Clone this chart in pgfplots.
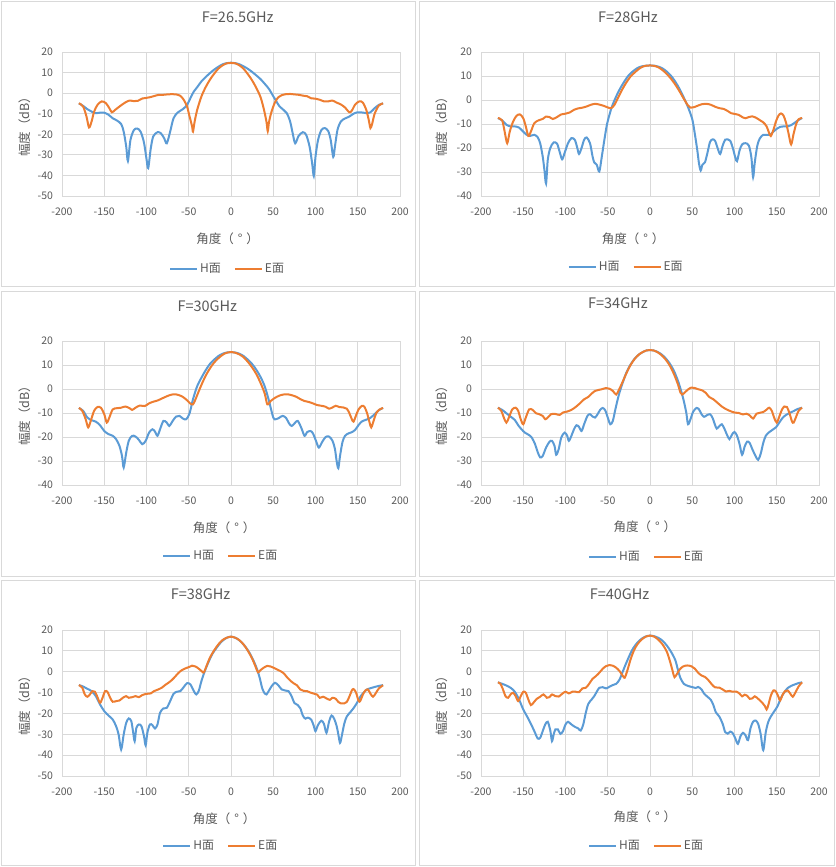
\documentclass[border=0pt]{standalone}
\usepackage{fontspec}
\setmainfont{Noto Sans CJK SC}
\usepackage{pgfplots}
\pgfplotsset{compat=1.18}
\definecolor{hblue}{HTML}{5B9BD5}
\definecolor{eorange}{HTML}{ED7D31}
\definecolor{txt}{HTML}{595959}
\definecolor{gridc}{HTML}{D9D9D9}
\pgfplotsset{
 panel/.style={
  scale only axis, width=338pt, height=144pt,
  xmin=-200,xmax=200, xtick={-200,-150,...,200},
  xticklabels={-200,-150,-100,-50,0,50,100,150,200},
  ymax=20,
  grid=major, grid style={gridc, line width=0.8pt},
  axis line style={gridc, line width=0.8pt},
  major tick length=0pt,
  tick label style={font=\fontsize{10.5}{12}\selectfont, text=txt},
  xticklabel style={yshift=-8pt},
  yticklabel style={xshift=-5.5pt},
  title style={font=\fontsize{14.5}{16}\selectfont, text=txt, anchor=center},
  xlabel style={font=\fontsize{12.5}{14}\selectfont, text=txt, anchor=center},
  ylabel style={font=\fontsize{12.5}{14}\selectfont, text=txt, anchor=center},
  xlabel={角度（\makebox[1em]{°}）}, ylabel={幅度（dB）},
  no markers,
  every axis plot/.append style={line width=2pt, smooth, tension=0.5},
  legend columns=2,
  legend style={draw=none, fill=none, font=\fontsize{12}{13}\selectfont, anchor=center,
    nodes={text=txt},
    /tikz/every even column/.append style={column sep=11pt}},
 },
 hstyle/.style={color=hblue, line width=2pt},
 estyle/.style={color=eorange, line width=2pt},
 y50/.style={ymin=-50, ytick={-50,-40,...,20}, yticklabels={-50,-40,-30,-20,-10,0,10,20}},
 y40/.style={ymin=-40, ytick={-40,-30,...,20}, yticklabels={-40,-30,-20,-10,0,10,20}},
}
\newcommand{\legimgs}{%
 \addlegendimage{legend image code/.code={\draw[hblue, line width=2pt] (0pt,0pt) -- (27pt,0pt);}}
 \addlegendentry{H面}
 \addlegendimage{legend image code/.code={\draw[eorange, line width=2pt] (0pt,0pt) -- (27pt,0pt);}}
 \addlegendentry{E面}
}
\begin{document}
\begin{tikzpicture}
\useasboundingbox (0,0) rectangle (835pt,867pt);
\draw[gridc, line width=0.8pt] (1pt,866pt) rectangle (415pt,581pt);
\draw[gridc, line width=0.8pt] (419pt,866pt) rectangle (834pt,581pt);
\draw[gridc, line width=0.8pt] (1pt,576pt) rectangle (415pt,291pt);
\draw[gridc, line width=0.8pt] (419pt,576pt) rectangle (834pt,291pt);
\draw[gridc, line width=0.8pt] (1pt,287pt) rectangle (415pt,2pt);
\draw[gridc, line width=0.8pt] (419pt,287pt) rectangle (834pt,2pt);

% Panel 1
\begin{axis}[panel, y50, at={(62pt,671pt)}, anchor=south west,
  title={F=26.5GHz}, title style={at={(axis description cs:0.52,1.20)}},
  xlabel style={at={(axis description cs:0.49,-0.30)}},
  ylabel style={at={(axis description cs:-0.109,0.5)}},
  legend style={at={(axis description cs:0.49,-0.507)}}]
\legimgs
\addplot[hstyle] coordinates {(-180,-5)(-175,-6.2)(-170,-7.8)(-167,-8.5)(-161,-9.7)(-155,-9.5)(-150,-9.5)(-145,-10.5)(-140,-12.2)(-135,-13.3)(-130,-15)(-127,-18.7)(-124,-26)(-122,-33)(-119,-22.8)(-115,-18)(-111,-17.2)(-107,-18.7)(-103,-24)(-100,-32)(-98,-36.5)(-95,-27)(-92,-21)(-87,-19)(-83,-19.5)(-79,-22)(-76,-24.4)(-72,-18.7)(-68,-12.2)(-63,-9.4)(-57,-7.8)(-52,-5.7)(-48,-2.4)(-44,0.8)(-40,2.9)(-35,5.7)(-30,7.8)(-25,9.7)(-20,11.4)(-15,12.8)(-10,14)(-5,14.6)(0,14.8)(5,14.6)(10,14)(15,13)(20,11.8)(25,10.3)(30,8.6)(35,6.8)(40,4.5)(45,2)(50,-1.5)(53,-3.5)(57,-6.2)(62,-8.1)(66,-9.7)(70,-13.8)(73,-19.5)(76,-24.4)(80,-20.8)(85,-19)(89,-20.3)(93,-26)(96,-34)(98,-40.3)(100,-31)(103,-22.8)(107,-17.9)(111,-17)(115,-18.4)(118,-22.8)(121,-31)(123,-26)(126,-17.9)(130,-13.8)(135,-12.3)(140,-11.4)(145,-10)(150,-9.3)(155,-9.4)(160,-9.7)(165,-9.3)(170,-7.3)(175,-5.7)(180,-5)};
\addplot[estyle] coordinates {(-180,-4.9)(-175,-6.5)(-171,-11.4)(-168,-16.7)(-165,-13.8)(-162,-9)(-158,-5.7)(-153,-4)(-148,-4.9)(-144,-7.3)(-141,-9.3)(-137,-8.1)(-131,-6.2)(-125,-4.5)(-120,-3.6)(-115,-3.9)(-110,-3.7)(-105,-2.6)(-100,-2.3)(-95,-1.9)(-90,-1.3)(-85,-0.8)(-80,-0.8)(-75,-0.6)(-70,-0.5)(-65,-0.6)(-60,-1.3)(-56,-3.2)(-52,-6.5)(-49,-11.4)(-46,-16.2)(-45,-18.7)(-43,-13.8)(-40,-8.1)(-35,-1.6)(-30,2.9)(-25,6.5)(-20,9.4)(-15,11.9)(-10,13.5)(-5,14.5)(0,14.7)(5,14.5)(10,13.5)(15,11.8)(20,9.2)(25,6.2)(30,2.5)(35,-2)(39,-8)(42,-14)(43.5,-18.5)(45,-14)(48,-9)(52,-4.5)(56,-2)(60,-1)(65,-0.5)(70,-0.4)(75,-0.6)(80,-0.8)(85,-1.2)(90,-1.5)(95,-2.5)(100,-2.7)(105,-3.2)(110,-4)(115,-4)(120,-3.6)(125,-4.6)(130,-5.5)(135,-7)(140,-9.3)(143,-8.5)(147,-5.5)(152,-4)(156,-4.6)(160,-8)(163,-13)(165,-17)(167,-15)(170,-10)(175,-6)(180,-5)};
\end{axis}

% Panel 2
\begin{axis}[panel, y40, at={(481pt,671pt)}, anchor=south west,
  title={F=28GHz}, title style={at={(axis description cs:0.435,1.20)}},
  xlabel style={at={(axis description cs:0.45,-0.30)}},
  ylabel style={at={(axis description cs:-0.115,0.5)}},
  legend style={at={(axis description cs:0.43,-0.49)}}]
\legimgs
\addplot[hstyle] coordinates {(-180,-7.5)(-175,-8.5)(-170,-10.3)(-165,-11)(-160,-11)(-155,-11.5)(-150,-13.2)(-146,-14.5)(-142,-15)(-137,-14.5)(-133,-15.5)(-130,-18)(-127,-23.5)(-125,-29)(-123,-34.8)(-121,-25)(-118,-20)(-114,-17.7)(-110,-18.2)(-107,-21.5)(-104,-24.7)(-101,-22)(-97,-18)(-93,-15.9)(-89,-16.6)(-86,-20)(-84,-22.5)(-81,-20)(-78,-16.6)(-75,-15.6)(-71,-18)(-68,-23.5)(-66,-26)(-63,-27)(-60,-29.8)(-57,-23.5)(-54,-16.6)(-51,-10.3)(-48,-6.2)(-45,-2.7)(-40,1.5)(-35,5)(-30,7.9)(-25,10.4)(-20,12)(-15,13.3)(-10,14)(-5,14.3)(0,14.4)(5,14.3)(10,13.9)(15,13.1)(20,11.8)(25,10)(30,7.6)(35,4.6)(40,1)(45,-3)(50,-8)(53,-14)(56,-21)(58,-26.5)(60,-29.4)(62,-27)(65,-26)(68,-22)(71,-17.5)(74,-16.4)(77,-17)(80,-20)(83,-22.5)(86,-19)(89,-16.5)(92,-16.4)(95,-17)(98,-20)(101,-24)(103,-25.5)(106,-21)(109,-18.5)(113,-18)(117,-19)(120,-24)(122,-32.2)(124,-26)(127,-19)(130,-16)(134,-14.5)(138,-14.5)(142,-14.5)(146,-13.2)(150,-12)(154,-11.2)(158,-11)(163,-11)(167,-10.5)(170,-9.8)(175,-8.5)(180,-7.5)};
\addplot[estyle] coordinates {(-180,-7.5)(-175,-8.5)(-172,-13.2)(-169,-18)(-166,-13.2)(-162,-9)(-158,-6.6)(-154,-6)(-150,-7.6)(-147,-11)(-144,-15)(-141,-13.2)(-137,-9.7)(-132,-8.5)(-127,-7.9)(-123,-6.9)(-119,-7.1)(-115,-7.9)(-110,-7.1)(-105,-6)(-100,-5.7)(-95,-5.2)(-90,-4.1)(-85,-3.5)(-80,-3.2)(-75,-2.7)(-70,-2)(-65,-1.6)(-60,-1.9)(-55,-2.4)(-50,-3.1)(-46,-3.4)(-42,-2)(-38,0.8)(-33,4.3)(-28,7.3)(-23,9.8)(-18,11.5)(-13,13)(-8,14)(-4,14.3)(0,14.4)(5,14.2)(10,13.6)(15,12.4)(20,10.8)(25,8.8)(30,6.4)(35,3.6)(40,0.5)(45,-2.3)(48,-3.2)(52,-3)(57,-2.3)(62,-1.7)(67,-1.6)(72,-2)(77,-2.8)(82,-3.4)(87,-3.7)(92,-4.6)(96,-5.5)(100,-5.8)(105,-6.2)(110,-7.3)(113,-7.6)(117,-7.1)(121,-6.8)(125,-7.3)(130,-8.4)(134,-9.3)(138,-11)(141,-13.8)(143,-15)(146,-12.5)(149,-9)(152,-6.5)(155,-5.6)(158,-6.5)(161,-9.5)(164,-14)(167,-18.5)(170,-14)(173,-10)(176,-8)(180,-7.5)};
\end{axis}

% Panel 3
\begin{axis}[panel, y40, at={(62pt,382pt)}, anchor=south west,
  title={F=30GHz}, title style={at={(axis description cs:0.43,1.20)}},
  xlabel style={at={(axis description cs:0.48,-0.30)}},
  ylabel style={at={(axis description cs:-0.109,0.5)}},
  legend style={at={(axis description cs:0.47,-0.49)}}]
\legimgs
\addplot[hstyle] coordinates {(-180,-7.9)(-175,-9.1)(-170,-11.9)(-165,-13)(-160,-13.6)(-155,-15.1)(-150,-17.5)(-145,-18.8)(-140,-19.5)(-136,-20.9)(-132,-23.7)(-129,-27.9)(-127,-32.7)(-124,-26.5)(-121,-21.6)(-117,-19.5)(-113,-19.8)(-109,-21.2)(-105,-23)(-101,-21.6)(-97,-18.2)(-93,-16.8)(-90,-17.7)(-87,-19.5)(-84,-16.8)(-80,-13.3)(-76,-14)(-73,-15.4)(-69,-13.3)(-65,-11.5)(-61,-11.2)(-57,-12.3)(-53,-12.6)(-49,-10.1)(-45,-4.3)(-40,1.2)(-35,4.7)(-30,7.8)(-25,10.4)(-20,12.2)(-15,13.7)(-10,14.7)(-5,15.2)(0,15.4)(5,15.2)(10,14.7)(15,13.7)(20,12.2)(25,10.4)(30,8)(35,5)(40,1)(45,-5)(50,-11.9)(53,-12.6)(57,-12)(61,-11.2)(65,-12)(69,-14.5)(72,-15.4)(76,-14)(79,-13.3)(83,-16)(87,-19.5)(90,-18)(94,-17.5)(97,-18.5)(101,-22)(104,-24.4)(108,-22)(112,-20)(116,-19.8)(120,-21.5)(123,-25)(125,-30)(127,-33)(129,-28)(132,-22)(135,-19.5)(139,-18.5)(143,-18)(147,-17)(151,-15)(155,-13.5)(160,-12.8)(165,-12)(170,-10.5)(175,-8.8)(180,-7.9)};
\addplot[estyle] coordinates {(-180,-7.9)(-176,-9.1)(-172,-12.6)(-169,-16)(-166,-13.3)(-162,-9.1)(-158,-7.5)(-154,-7.8)(-150,-10.5)(-147,-14)(-144,-11.9)(-140,-8.5)(-135,-8)(-130,-7.8)(-125,-7.3)(-120,-8)(-117,-8.7)(-113,-7.8)(-108,-6.9)(-102,-7.1)(-97,-6)(-92,-5.3)(-87,-4.8)(-82,-4)(-77,-3.2)(-72,-2.5)(-67,-2.2)(-62,-2.5)(-57,-3.3)(-52,-4.7)(-48,-6.1)(-45,-6.4)(-42,-4.3)(-38,-0.8)(-33,3.3)(-28,6.8)(-23,9.6)(-18,11.8)(-13,13.4)(-8,14.7)(-4,15.2)(0,15.4)(5,15.1)(10,14.4)(15,13.2)(20,11.3)(25,9)(30,6.2)(35,2.5)(40,-2)(43,-6.4)(47,-5)(52,-3.7)(57,-2.8)(62,-2.3)(67,-2.2)(72,-2.6)(77,-3.2)(82,-4.2)(87,-5)(92,-5.4)(97,-6)(102,-6.7)(107,-7)(112,-7.4)(116,-8.2)(120,-7.7)(124,-7)(128,-7.5)(133,-7.7)(137,-8.2)(140,-10)(143,-12.6)(145,-13.6)(148,-11)(151,-8.5)(155,-7)(158,-7.5)(161,-10)(164,-14)(166,-16)(169,-13)(172,-10)(176,-8.5)(180,-7.9)};
\end{axis}

% Panel 4
\begin{axis}[panel, y40, at={(481pt,382pt)}, anchor=south west,
  title={F=34GHz}, title style={at={(axis description cs:0.405,1.22)}},
  xlabel style={at={(axis description cs:0.485,-0.29)}},
  ylabel style={at={(axis description cs:-0.115,0.5)}},
  legend style={at={(axis description cs:0.49,-0.50)}}]
\legimgs
\addplot[hstyle] coordinates {(-180,-7.8)(-175,-8.7)(-170,-10.1)(-165,-11.5)(-160,-12.9)(-156,-15.1)(-152,-16.8)(-148,-18.2)(-144,-19)(-140,-20.2)(-136,-23)(-133,-26.2)(-130,-28.5)(-127,-27.9)(-123,-24.4)(-119,-22)(-116,-21.6)(-113,-23.7)(-111,-27.4)(-108,-25)(-105,-20.2)(-101,-18.2)(-98,-19.5)(-96,-21.6)(-93,-19.5)(-90,-16.8)(-87,-15.1)(-84,-15.8)(-81,-17.5)(-78,-14.7)(-74,-11.2)(-71,-10.5)(-68,-11.5)(-65,-11.9)(-62,-10.5)(-59,-8.7)(-56,-7.9)(-53,-8.9)(-50,-11.9)(-47,-14.7)(-44,-13.3)(-41,-8.5)(-37,-2.6)(-33,1.9)(-28,6.8)(-23,10.2)(-18,12.7)(-13,14.4)(-8,15.5)(-4,16.1)(0,16.2)(4,16.1)(8,15.6)(13,14.6)(18,13)(23,10.8)(28,7.8)(33,3.5)(37,-1)(40,-5)(43,-10)(45,-14.7)(48,-12.5)(51,-9.5)(55,-7.9)(58,-8.5)(61,-10.5)(64,-11.6)(67,-11)(71,-10.5)(74,-12)(77,-15)(79,-16.5)(82,-15.5)(85,-14.7)(88,-16.5)(91,-19)(94,-20.9)(97,-19)(100,-17.9)(103,-19.5)(106,-23)(109,-27.4)(112,-24)(115,-21.9)(118,-22.5)(121,-25)(125,-28)(128,-29.5)(131,-27)(134,-22.5)(137,-19.5)(141,-18)(145,-17)(149,-16)(153,-14)(157,-12)(161,-10.8)(165,-10)(170,-9.2)(175,-8.3)(180,-7.8)};
\addplot[estyle] coordinates {(-180,-7.8)(-176,-9.1)(-173,-11.9)(-170,-14)(-167,-11.9)(-163,-8.5)(-159,-7.8)(-156,-9.1)(-153,-12.6)(-150,-14.7)(-147,-11.9)(-143,-8.5)(-139,-8.7)(-135,-10.1)(-131,-10.5)(-127,-11.2)(-124,-12.6)(-121,-11.9)(-117,-10.5)(-112,-10.4)(-107,-10.8)(-103,-9.8)(-98,-9.4)(-93,-8.7)(-88,-7.5)(-83,-6)(-78,-4.3)(-73,-3.3)(-69,-1.9)(-65,-0.8)(-61,-0.4)(-57,-0.1)(-52,0.4)(-48,0.1)(-44,-0.8)(-40,-2.3)(-37,-0.5)(-33,2.5)(-28,6.5)(-23,10)(-18,12.6)(-13,14.4)(-8,15.5)(-4,16.1)(0,16.2)(4,16.1)(8,15.5)(13,14.3)(18,12.5)(23,10)(28,6.5)(33,2)(36,-1.5)(38,-2.3)(41,-1.5)(45,-0.2)(49,0.6)(53,0.4)(57,-0.1)(62,-0.6)(66,-1.6)(70,-3.3)(75,-4.3)(80,-5.8)(85,-7.3)(90,-8.4)(95,-9.2)(100,-9.8)(105,-10)(110,-10.6)(114,-10.3)(118,-11)(122,-12.3)(126,-10.3)(130,-9.9)(134,-9.6)(138,-8.6)(141,-7.8)(144,-9)(147,-12)(150,-14)(153,-11.5)(156,-8.7)(159,-7.3)(162,-7.5)(165,-10)(168,-13.5)(170,-14)(173,-11.5)(176,-9)(180,-7.8)};
\end{axis}

% Panel 5
\begin{axis}[panel, y50, height=146pt, at={(62pt,91pt)}, anchor=south west,
  title={F=38GHz}, title style={at={(axis description cs:0.41,1.205)}},
  xlabel style={at={(axis description cs:0.48,-0.29)}},
  ylabel style={at={(axis description cs:-0.109,0.5)}},
  legend style={at={(axis description cs:0.47,-0.48)}}]
\legimgs
\addplot[hstyle] coordinates {(-180,-6.4)(-175,-7.1)(-170,-8.2)(-165,-9.3)(-160,-11.7)(-155,-15.7)(-150,-18.9)(-145,-21)(-140,-22.9)(-136,-26.1)(-133,-30.1)(-130,-37.3)(-127,-30.1)(-124,-24.5)(-121,-22.4)(-118,-23.7)(-116,-28.5)(-114,-33.3)(-112,-26.9)(-109,-25.3)(-106,-26.1)(-103,-30.9)(-101,-35.3)(-99,-29.3)(-96,-25.3)(-93,-25.6)(-90,-27.2)(-87,-25.3)(-84,-19.7)(-80,-17.6)(-76,-17.3)(-72,-14.1)(-68,-10.6)(-64,-9.6)(-60,-9.3)(-56,-7.4)(-52,-5.5)(-48,-6.1)(-44,-9.3)(-41,-10.9)(-38,-9)(-35,-4.5)(-31,0.3)(-27,4.3)(-22,8.6)(-17,11.5)(-12,14.1)(-7,15.8)(-3,16.6)(0,16.8)(3,16.6)(7,15.9)(12,14.3)(17,12)(22,9)(27,5)(31,1)(34,-3)(37,-8)(40,-10.5)(42,-10.9)(45,-9)(48,-7)(52,-5.3)(56,-6.5)(60,-8.5)(64,-9)(68,-9.3)(72,-12)(75,-15)(79,-16)(82,-17.5)(85,-21)(88,-22.5)(91,-22)(95,-23)(98,-26)(100,-28.5)(103,-25.5)(107,-23.5)(110,-25)(113,-29.3)(116,-24)(119,-21)(122,-22.5)(125,-26)(127,-30)(129,-34.1)(131,-31)(134,-25)(137,-21.5)(141,-19.5)(145,-17.5)(149,-15)(153,-12)(157,-10)(161,-8.5)(166,-7.8)(171,-7.2)(175,-6.8)(180,-6.4)};
\addplot[estyle] coordinates {(-180,-6.4)(-176,-7.7)(-173,-10.9)(-170,-12)(-167,-10.9)(-164,-9.3)(-161,-9.6)(-158,-12.2)(-155,-14.9)(-152,-12.5)(-149,-9.3)(-146,-9.8)(-143,-12.5)(-140,-14.4)(-136,-14.1)(-132,-13.8)(-128,-12.5)(-124,-11.7)(-121,-12.5)(-117,-12.2)(-113,-11.7)(-109,-12.2)(-105,-11.2)(-100,-10.6)(-95,-10.4)(-91,-9.3)(-86,-8.5)(-82,-7.7)(-78,-6.4)(-74,-5.3)(-70,-4)(-66,-2.3)(-62,-0.5)(-58,0.8)(-54,1.6)(-50,2.2)(-46,2.9)(-42,2.5)(-38,1.4)(-34,0)(-32,-0.3)(-29,2.7)(-25,6.7)(-20,10.2)(-15,13.1)(-10,15.2)(-5,16.3)(0,16.8)(5,16.3)(10,15.1)(15,13)(20,10)(25,6.3)(29,2.5)(32,-0.3)(35,0.8)(39,2)(43,2.8)(47,2.5)(51,1.8)(55,1)(59,0.2)(63,-1)(66,-2.5)(70,-4.2)(74,-5.5)(78,-6.5)(82,-8.5)(86,-9.2)(90,-9.3)(94,-10)(98,-10.5)(102,-11)(105,-12.5)(109,-12)(113,-12.8)(117,-13.5)(120,-12.5)(124,-13)(127,-14.5)(130,-15.2)(134,-15.2)(137,-14.5)(140,-12)(143,-9)(145,-8.3)(148,-10)(151,-14)(153,-14)(156,-11)(159,-9)(162,-8.5)(165,-10.5)(168,-12)(171,-10.5)(175,-8)(180,-6.5)};
\end{axis}

% Panel 6
\begin{axis}[panel, y50, height=146pt, at={(481pt,91pt)}, anchor=south west,
  title={F=40GHz}, title style={at={(axis description cs:0.41,1.205)}},
  xlabel style={at={(axis description cs:0.485,-0.28)}},
  ylabel style={at={(axis description cs:-0.115,0.5)}},
  legend style={at={(axis description cs:0.49,-0.48)}}]
\legimgs
\addplot[hstyle] coordinates {(-180,-5.1)(-175,-5.8)(-170,-6.6)(-165,-7.7)(-160,-9.6)(-155,-13.3)(-150,-18.1)(-145,-21.8)(-140,-25.8)(-136,-29.3)(-133,-32)(-130,-31.7)(-127,-28.5)(-124,-25.3)(-121,-24)(-118,-28.2)(-116,-33.3)(-114,-30.1)(-112,-27.7)(-109,-27.7)(-106,-29.8)(-103,-28.5)(-100,-25.3)(-97,-24)(-93,-25.3)(-89,-26.4)(-85,-27.2)(-82,-28.2)(-79,-25.3)(-76,-19.7)(-73,-15.4)(-69,-13.3)(-66,-11.7)(-63,-9.6)(-60,-7.7)(-56,-7.4)(-52,-8)(-48,-7.2)(-44,-6.4)(-40,-5.8)(-36,-3.7)(-32,0.3)(-28,4.3)(-24,8)(-20,11.2)(-15,13.9)(-10,15.8)(-5,16.9)(0,17.3)(5,17)(10,16.2)(15,14.8)(20,12.5)(25,9.5)(30,5.5)(33,1)(36,-3)(40,-5.8)(45,-6.8)(50,-7.4)(54,-7.8)(57,-7.3)(61,-8.5)(64,-10.5)(68,-12)(72,-13.5)(75,-16)(78,-19.5)(82,-21.5)(86,-25)(89,-29)(92,-29.7)(95,-28.7)(98,-29.5)(101,-32)(104,-34.6)(107,-31)(110,-29.3)(113,-30.5)(116,-32.8)(119,-27)(122,-24)(125,-23.4)(128,-25)(131,-30)(134,-37.6)(137,-29)(140,-24)(143,-21.5)(147,-19)(151,-16.5)(155,-12.5)(159,-9.8)(163,-7.8)(167,-6.8)(172,-6)(176,-5.4)(180,-5.1)};
\addplot[estyle] coordinates {(-180,-5.1)(-177,-5.8)(-174,-8.5)(-171,-11.7)(-168,-12.5)(-165,-10.9)(-162,-10.1)(-159,-11.7)(-156,-14.1)(-153,-11.7)(-150,-9.6)(-147,-10.1)(-144,-13.3)(-141,-16)(-138,-14.9)(-134,-13)(-130,-12)(-126,-10.9)(-122,-12.5)(-119,-12.2)(-116,-10.9)(-112,-11.7)(-108,-11.9)(-104,-10.6)(-100,-9.6)(-96,-10.4)(-92,-9.6)(-88,-9.6)(-84,-9.8)(-80,-8)(-76,-7.7)(-72,-5.8)(-68,-3.4)(-64,-2.1)(-60,-0.5)(-56,1.4)(-52,2.7)(-48,3.2)(-44,2.9)(-40,1.9)(-36,0.3)(-32,-2.1)(-30,-2.9)(-27,0.3)(-23,5.9)(-19,10.2)(-15,13.1)(-10,15.4)(-5,16.8)(0,17.3)(5,16.8)(10,15.3)(15,13)(20,9.5)(24,4.5)(27,0)(29,-2.6)(32,-1)(35,1)(39,2.5)(44,3)(49,2.6)(53,1.5)(57,-0.5)(61,-1.8)(65,-2.5)(69,-4)(73,-6)(77,-7.5)(82,-7.6)(86,-8.5)(90,-9.5)(94,-9.2)(98,-9.6)(102,-9.5)(106,-10.5)(109,-11.8)(112,-11)(115,-11.5)(118,-13)(121,-12.8)(124,-11.8)(128,-13)(132,-14.5)(136,-16.5)(138,-18.1)(140,-16)(143,-11.5)(146,-9)(149,-9.5)(152,-12)(154,-13.8)(157,-11)(160,-9.3)(163,-9)(166,-10.5)(169,-12)(172,-10)(176,-7)(180,-5.1)};
\end{axis}
\end{tikzpicture}
\end{document}
